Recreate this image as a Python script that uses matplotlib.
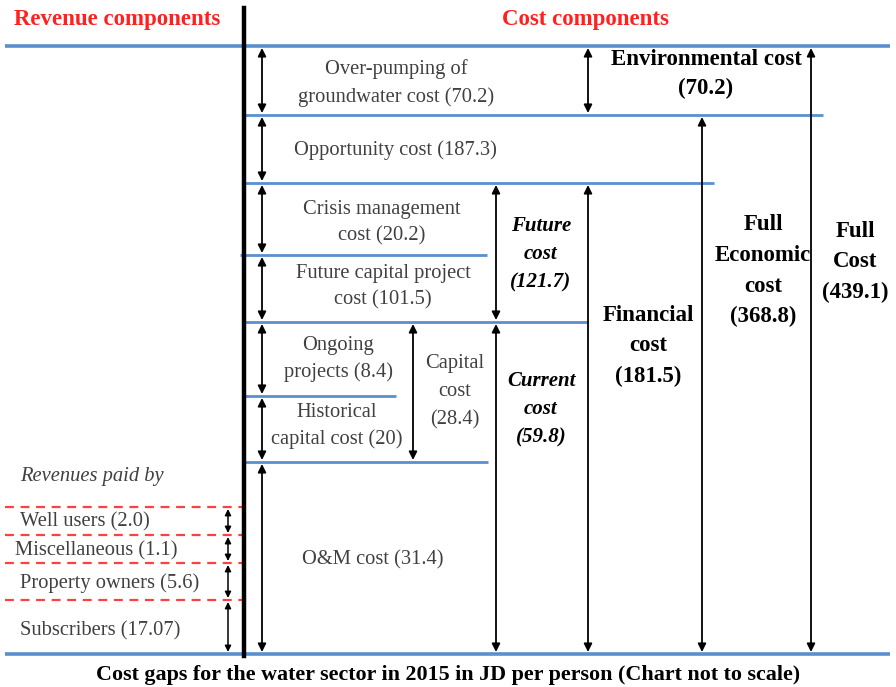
import matplotlib
matplotlib.use("Agg")
import matplotlib.pyplot as plt
from matplotlib.patches import FancyArrowPatch

# ---- data (labels and values) ----
cost_items = ["Over-pumping of\ngroundwater cost", "Opportunity cost", "Crisis management\ncost",
              "Future capital project\ncost", "Ongoing\nprojects", "Historical\ncapital cost", "O&M cost"]
cost_values = ["70.2", "187.3", "20.2", "101.5", "8.4", "20", "31.4"]
revenue_items = ["Well users", "Miscellaneous", "Property owners", "Subscribers"]
revenue_values = ["2.0", "1.1", "5.6", "17.07"]
aggregate_names = ["Capital\ncost", "Future\ncost", "Current\ncost", "Financial\ncost",
                   "Full\nEconomic\ncost", "Full\nCost", "Environmental cost"]
aggregate_values = ["28.4", "121.7", "59.8", "181.5", "368.8", "439.1", "70.2"]

# ---- layout (pixel coordinates) ----
W, H = 896, 687
fig = plt.figure(figsize=(W / 100, H / 100), dpi=100)
ax = fig.add_axes([0, 0, 1, 1])
ax.set_xlim(0, W)
ax.set_ylim(H, 0)
ax.axis("off")

serif = ["Liberation Serif", "DejaVu Serif"]
blue = "#5b8fcf"
gray = "#404040"

def hline(y, x0, x1, lw=2.0):
    ax.plot([x0, x1], [y, y], color=blue, lw=lw, solid_capstyle="butt", zorder=2)

def arrow(x, y0, y1, lw=1.3, ms=12):
    a = FancyArrowPatch((x, y0), (x, y1), arrowstyle="<|-|>", mutation_scale=ms,
                        color="black", lw=lw, shrinkA=0, shrinkB=0, zorder=3)
    ax.add_patch(a)

# blue horizontal lines
hline(46, 5, 890, lw=2.6)
hline(654, 5, 890, lw=2.6)
hline(115, 244, 823)
hline(183, 244, 714)
hline(255, 240, 487)
hline(322, 244, 588)
hline(396, 244, 396)
hline(462, 244, 488)

# central black divider
ax.plot([244, 244], [8, 656], color="black", lw=3.2, zorder=4)

# red dashed revenue lines
for y in [507, 535, 563, 600]:
    ax.plot([5, 244], [y, y], color="#ff4040", lw=1.6, ls=(0, (4, 3)), zorder=2)

# left cost-item arrows
bounds = [46, 115, 183, 255, 322, 396, 462, 654]
for i in range(len(bounds) - 1):
    arrow(262, bounds[i] + 2, bounds[i + 1] - 2)

# revenue arrows
rb = [507, 535, 563, 600, 654]
for i in range(len(rb) - 1):
    arrow(228, rb[i] + 2, rb[i + 1] - 2, ms=9, lw=1.1)

# aggregate arrows
arrow(588, 48, 113)      # environmental
arrow(413, 324, 460)     # capital
arrow(496, 185, 320)     # future
arrow(496, 324, 652)     # current
arrow(588, 185, 652)     # financial
arrow(702, 117, 652)     # full economic
arrow(811, 48, 652)      # full cost

# headers
ax.text(117, 19, "Revenue components", color="#ff2020", fontsize=16.5, fontweight="bold",
        family=serif, ha="center", va="center")
ax.text(585, 19, "Cost components", color="#ff2020", fontsize=16.5, fontweight="bold",
        family=serif, ha="center", va="center")

# cost item labels
item_pos = [(396, 83), (395, 150), (382, 223), (383, 287), (338, 359), (337, 426), (373, 560)]
for name, val, (x, y) in zip(cost_items, cost_values, item_pos):
    ax.text(x, y, f"{name} ({val})", color=gray, fontsize=14.8, family=serif,
            ha="center", va="center", linespacing=1.5)

# aggregate labels
agg_pos = [(455, 392), (541, 254), (541, 409), (648, 346), (763, 271), (855, 262), (706, 74)]
agg_style = ["normal", "bi", "bi", "b", "b", "b", "b"]
for name, val, (x, y), st in zip(aggregate_names, aggregate_values, agg_pos, agg_style):
    if st == "normal":
        ax.text(x, y, f"{name}\n({val})", color=gray, fontsize=14.8, family=serif,
                ha="center", va="center", linespacing=1.65)
    elif st == "bi":
        ax.text(x, y, f"{name}\n({val})", color="black", fontsize=15, family=serif,
                fontweight="bold", style="italic", ha="center", va="center", linespacing=1.55)
    else:
        ax.text(x, y, f"{name}\n({val})", color="black", fontsize=16.5, family=serif,
                fontweight="bold", ha="center", va="center",
                linespacing=1.45 if name.startswith("Env") else 1.6)

# revenue labels
ax.text(20, 477, "Revenues paid by", color=gray, fontsize=14.8, family=serif,
        style="italic", ha="left", va="center")
rev_pos = [(20, 522), (15, 551), (20, 583), (20, 631)]
for name, val, (x, y) in zip(revenue_items, revenue_values, rev_pos):
    ax.text(x, y, f"{name} ({val})", color=gray, fontsize=14.8, family=serif,
            ha="left", va="center")

# caption
ax.text(448, 675, "Cost gaps for the water sector in 2015 in JD per person (Chart not to scale)",
        color="black", fontsize=15.8, fontweight="bold", family=serif, ha="center", va="center")

fig.savefig("out.png", dpi=100)
